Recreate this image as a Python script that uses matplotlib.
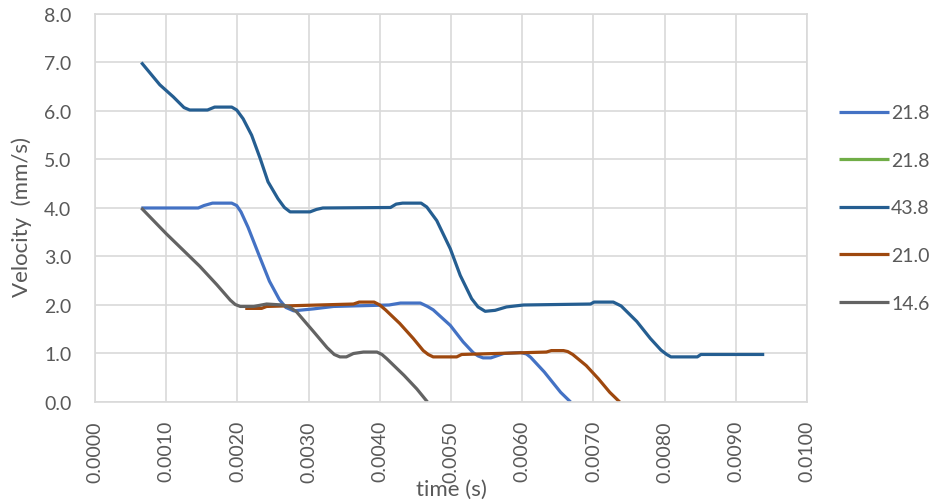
import matplotlib.pyplot as plt
from matplotlib.ticker import FormatStrFormatter, MultipleLocator

# series: time (s) / velocity (mm/s)
t_218 = [0.00065, 0.00145, 0.00153, 0.00165, 0.00192, 0.00199, 0.00205, 0.00215,
         0.00230, 0.00245, 0.00259, 0.00268, 0.00279, 0.00307, 0.00335, 0.00413,
         0.00429, 0.00457, 0.00467, 0.00475, 0.00499, 0.00517, 0.00531, 0.00538,
         0.00545, 0.00556, 0.00574, 0.00598, 0.00606, 0.00612, 0.00631, 0.00654,
         0.00668]
v_218 = [4.00, 4.00, 4.05, 4.10, 4.10, 4.05, 3.92, 3.60,
         3.04, 2.49, 2.11, 1.95, 1.88, 1.92, 1.97, 2.00,
         2.04, 2.04, 1.97, 1.90, 1.58, 1.24, 1.02, 0.95,
         0.91, 0.91, 1.00, 1.02, 0.99, 0.92, 0.62, 0.20,
         0.00]

t_218b = []
v_218b = []

t_438 = [0.00065, 0.00091, 0.00110, 0.00125, 0.00133, 0.00158, 0.00168, 0.00192,
         0.00199, 0.00208, 0.00220, 0.00232, 0.00243, 0.00257, 0.00266, 0.00274,
         0.00302, 0.00311, 0.00320, 0.00415, 0.00423, 0.00432, 0.00458, 0.00466,
         0.00480, 0.00499, 0.00513, 0.00529, 0.00538, 0.00548, 0.00562, 0.00578,
         0.00602, 0.00696, 0.00701, 0.00728, 0.00739, 0.00761, 0.00780, 0.00795,
         0.00803, 0.00809, 0.00846, 0.00851, 0.00940]
v_438 = [7.00, 6.54, 6.29, 6.07, 6.02, 6.02, 6.08, 6.08,
         6.02, 5.84, 5.50, 5.02, 4.54, 4.19, 4.01, 3.92,
         3.92, 3.97, 4.00, 4.01, 4.08, 4.10, 4.10, 4.02,
         3.74, 3.16, 2.61, 2.13, 1.96, 1.87, 1.89, 1.96,
         2.00, 2.02, 2.06, 2.06, 1.98, 1.66, 1.31, 1.07,
         0.98, 0.93, 0.93, 0.98, 0.98]

t_210 = [0.00211, 0.00234, 0.00241, 0.00363, 0.00371, 0.00392, 0.00400, 0.00408,
         0.00428, 0.00447, 0.00461, 0.00468, 0.00475, 0.00508, 0.00515, 0.00634,
         0.00641, 0.00658, 0.00664, 0.00671, 0.00690, 0.00707, 0.00723, 0.00737]
v_210 = [1.93, 1.93, 1.97, 2.02, 2.06, 2.06, 2.00, 1.90,
         1.62, 1.31, 1.06, 0.98, 0.93, 0.93, 0.98, 1.03,
         1.06, 1.06, 1.04, 0.98, 0.75, 0.48, 0.20, 0.00]

t_146 = [0.00065, 0.00100, 0.00147, 0.00171, 0.00190, 0.00197, 0.00204, 0.00223,
         0.00241, 0.00264, 0.00274, 0.00283, 0.00307, 0.00326, 0.00336, 0.00344,
         0.00353, 0.00363, 0.00377, 0.00396, 0.00403, 0.00410, 0.00434, 0.00452,
         0.00467]
v_146 = [4.00, 3.47, 2.80, 2.42, 2.10, 2.01, 1.97, 1.97,
         2.02, 2.00, 1.95, 1.86, 1.45, 1.12, 0.98, 0.93,
         0.93, 1.00, 1.03, 1.03, 0.98, 0.89, 0.55, 0.27,
         0.00]

labels = ['21.8', '21.8', '43.8', '21.0', '14.6']
colors = ['#4472C4', '#70AD47', '#255E91', '#9E480E', '#636363']

plt.rcParams['font.family'] = ['Lato', 'DejaVu Sans']
text_color = '#595959'
grid_color = '#D9D9D9'

fig = plt.figure(figsize=(9.38, 5.02), dpi=100)
ax = fig.add_axes([0.1013, 0.1972, 0.759, 0.773])

series = [(t_218, v_218), (t_218b, v_218b), (t_438, v_438), (t_210, v_210), (t_146, v_146)]
for (t, v), label, color in zip(series, labels, colors):
    ax.plot(t, v, color=color, linewidth=2.3, label=label,
            solid_capstyle='butt', solid_joinstyle='round')

ax.set_xlim(0, 0.01)
ax.set_ylim(0, 8)
ax.xaxis.set_major_locator(MultipleLocator(0.001))
ax.yaxis.set_major_locator(MultipleLocator(1))
ax.xaxis.set_major_formatter(FormatStrFormatter('%.4f'))
ax.yaxis.set_major_formatter(FormatStrFormatter('%.1f'))
ax.grid(True, color=grid_color, linewidth=1.2)
ax.set_axisbelow(True)
for spine in ax.spines.values():
    spine.set_color(grid_color)
    spine.set_linewidth(1.2)

ax.tick_params(axis='both', length=0, labelsize=14, labelcolor=text_color)
ax.tick_params(axis='x', rotation=90, pad=13)
ax.tick_params(axis='y', pad=17)

ax.set_xlabel('time (s)', fontsize=16, color=text_color, va='center')
ax.xaxis.set_label_coords(0.5, -0.224)
ax.set_ylabel('Velocity  (mm/s)', fontsize=16, color=text_color, va='center')
ax.yaxis.set_label_coords(-0.1025, 0.48)

ax.legend(loc='center left', bbox_to_anchor=(1.02, 0.5), frameon=False,
          fontsize=14, labelcolor=text_color, handlelength=2.6,
          handletextpad=0.1, labelspacing=1.57)

plt.savefig('out.png', dpi=100)
plt.close()
